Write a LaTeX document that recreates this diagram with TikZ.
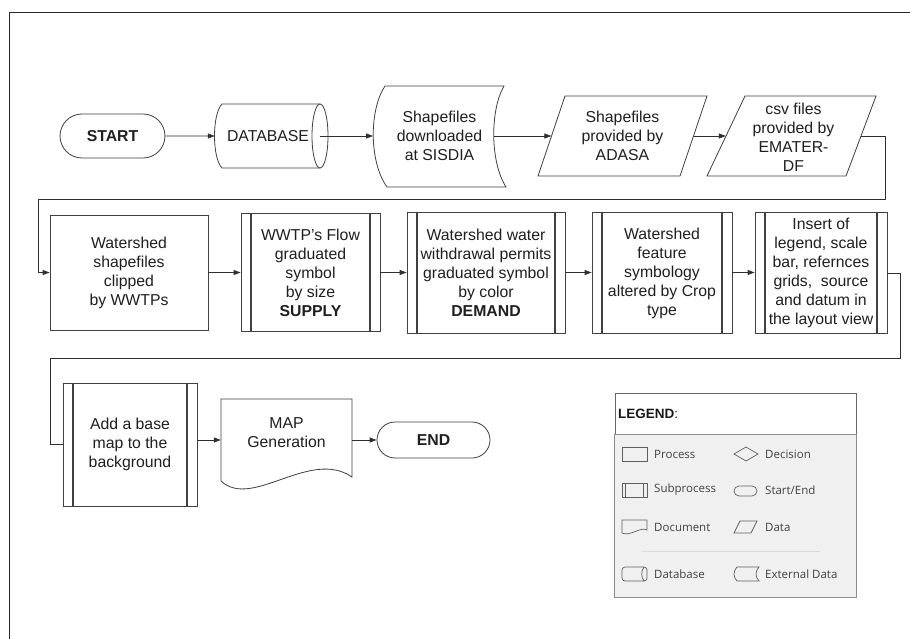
\documentclass[tikz,border=0pt]{standalone}
\usepackage{fontspec}
\setmainfont{Liberation Sans}
\newfontfamily\legfont{Open Sans}
\usetikzlibrary{shapes.misc,arrows.meta,calc}
\definecolor{shp}{HTML}{404040}
\definecolor{con}{HTML}{303030}
\definecolor{licon}{HTML}{606060}
\definecolor{ltext}{HTML}{404040}
\definecolor{lfill}{HTML}{F0F0F0}
\begin{document}
\begin{tikzpicture}[x=1pt,y=-1pt,
  txt/.style={font=\fontsize{15.8}{19}\selectfont, align=center, text=black!88, inner sep=0pt},
  box/.style={txt, draw=shp, line width=0.8pt, fill=white},
  proc/.style={box, rectangle},
  subp/.style={box, rectangle, path picture={
     \draw[shp, line width=1.6pt] ([xshift=10pt]path picture bounding box.north west) -- ([xshift=10pt]path picture bounding box.south west);
     \draw[shp, line width=1.6pt] ([xshift=-10pt]path picture bounding box.north east) -- ([xshift=-10pt]path picture bounding box.south east);}},
  term/.style={box, rounded rectangle, font=\fontsize{15.8}{19}\selectfont\bfseries},
  outl/.style={draw=shp, line width=0.8pt, fill=white},
  arr/.style={draw=con, line width=0.8pt, -{Triangle[length=7pt,width=5pt]}},
  plain/.style={draw=con, line width=0.8pt},
  ico/.style={draw=licon, line width=0.7pt},
  ltxt/.style={anchor=west, inner sep=0pt, font=\legfont\fontsize{11.5}{13}\selectfont, text=ltext}
]
\useasboundingbox (0,0) rectangle (910,639);
\fill[white] (0,0) rectangle (910,639);
% frame
\draw[line width=1.6pt, black!85] (9.5,639) -- (9.5,12.5) -- (910,12.5);

% ---------- row 1 ----------
\node[term, minimum width=105pt, minimum height=44pt] (start) at (112.5,136) {START};

\draw[outl] (222,104) -- (320,104) -- (320,168) -- (222,168) .. controls (212,158) and (212,114) .. (222,104) -- cycle;
\draw[outl] (320,136) ellipse [x radius=8, y radius=32];
\node[txt, minimum width=106pt, minimum height=64pt] (db) at (268,136) {DATABASE};

\draw[outl] (385,86) -- (504,86) .. controls (490,110) and (490,162) .. (506,187) -- (387,187) .. controls (369,162) and (369,110) .. (385,86) -- cycle;
\node[txt, minimum width=132.4pt, minimum height=80pt] (sis) at (439.5,136) {Shapefiles\\downloaded\\at SISDIA};

\draw[outl] (565,96) -- (707,96) -- (680,176) -- (538,176) -- cycle;
\node[txt, minimum width=142pt, minimum height=80pt] (adasa) at (622.5,136) {Shapefiles\\provided by\\ADASA};

\draw[outl] (745,96) -- (876,96) -- (846,176) -- (707,176) -- cycle;
\node[txt, minimum width=135pt, minimum height=80pt] (csv) at (793.5,137) {csv files\\provided by\\EMATER-\\DF};

\draw[arr] (start) -- (db.west);
\draw[arr] ([xshift=-1pt]db.east) -- (sis.west);
\draw[arr] ([xshift=-12pt]sis.east) -- (adasa.west);
\draw[arr] (adasa.east) -- (adasa.east -| csv.west);

% ---------- row 2 ----------
\node[proc, minimum width=158pt, minimum height=115pt] (ws) at (129,272.5) {Watershed\\shapefiles\\clipped\\by WWTPs};
\node[subp, minimum width=139pt, minimum height=118pt] (wwtp) at (310.5,272.5) {WWTP's Flow\\graduated\\symbol\\by size\\\textbf{SUPPLY}};
\node[subp, minimum width=158pt, minimum height=121pt] (dem) at (486,273) {Watershed water\\withdrawal permits\\graduated symbol\\by color\\\textbf{DEMAND}};
\node[subp, minimum width=140pt, minimum height=121pt] (crop) at (662,273) {Watershed\\feature\\symbology\\altered by Crop\\type};
\node[subp, minimum width=132pt, minimum height=121pt] (ins) at (821,273) {Insert of\\legend, scale\\bar, refernces\\grids,\ \ source\\and datum in\\the layout view};

\coordinate (r1a) at (885,199);
\coordinate (r1b) at (38,272.5);
\draw[arr] (adasa.east -| csv.east) -| (r1a) -| (r1b) -- (ws.west);
\draw[arr] (ws.east) -- (ws.east -| wwtp.west);
\draw[arr] (wwtp.east) -- (wwtp.east -| dem.west);
\draw[arr] (wwtp.east -| dem.east) -- (wwtp.east -| crop.west);
\draw[arr] (wwtp.east -| crop.east) -- (wwtp.east -| ins.west);

% ---------- row 3 ----------
\node[subp, minimum width=134pt, minimum height=123pt] (add) at (130,444.5) {Add a base\\map to the\\background};

\draw[outl] (221,399) -- (352,399) -- (352,477) .. controls (310,448) and (252,510) .. (221,481) -- cycle;
\node[txt, minimum width=131pt] (map) at (286.5,433) {MAP\\Generation};

\node[term, minimum width=113pt, minimum height=36pt] (endn) at (433.5,440) {END};

\coordinate (r2a) at (900,358);
\coordinate (r2b) at (50,444.5);
\draw[plain] (ins.east) -| (r2a) -| (r2b) -- (add.west);
\draw[arr] (add.east |- endn.west) -- (map.west |- endn.west);
\draw[arr] (map.east |- endn.west) -- (endn.west);

% ---------- legend ----------
\node[draw=black!60, fill=white, line width=0.8pt, text width=235pt, align=left, inner sep=3pt, minimum height=41pt,
      font=\fontsize{13.5}{15}\selectfont, text=black!90] (lh) at (735.5,413.5) {\textbf{LEGEND}:};
\node[draw=black!45, fill=lfill, line width=0.8pt, minimum width=242pt, minimum height=163pt, anchor=north, inner sep=0pt] (lb) at (lh.south) {};

% icons left column
\draw[ico] (622,447) rectangle (647,461);
\draw[ico] (622,483) rectangle (647,497);
\draw[ico] (625.5,483) -- (625.5,497);
\draw[ico] (643.5,483) -- (643.5,497);
\draw[ico] (622,520) -- (647,520) -- (647,530) .. controls (641,526) and (630,537) .. (622,533) -- cycle;
\draw[ico, rounded corners=3pt] (622,567) rectangle (647,581);
\draw[ico] (644,567) .. controls (641,571) and (641,577) .. (644,581);
% icons right column
\draw[ico] (734,454) -- (746,447) -- (758,454) -- (746,461) -- cycle;
\draw[ico, rounded corners=5pt] (734,486) rectangle (757,496);
\draw[ico] (740,521) -- (757,521) -- (751,533) -- (734,533) -- cycle;
\draw[ico] (737,567) -- (759,567) .. controls (755,571) and (755,577) .. (759,581) -- (737,581) .. controls (733,577) and (733,571) .. (737,567) -- cycle;
\draw[draw=black!15, line width=0.7pt] (642,551) -- (820,551);

\node[ltxt] (lp) at (654,454) {Process};
\node[ltxt] (ls) at (654,490) {Subprocess};
\node[ltxt] (ld) at (654,527) {Document};
\node[ltxt] (ldb) at (654,574) {Database};
\node[ltxt] (ldec) at (765,454) {Decision};
\node[ltxt] (lse) at (765,490) {Start/End};
\node[ltxt] (lda) at (765,527) {Data};
\node[ltxt] (lex) at (765,574) {External Data};
\end{tikzpicture}
\end{document}
